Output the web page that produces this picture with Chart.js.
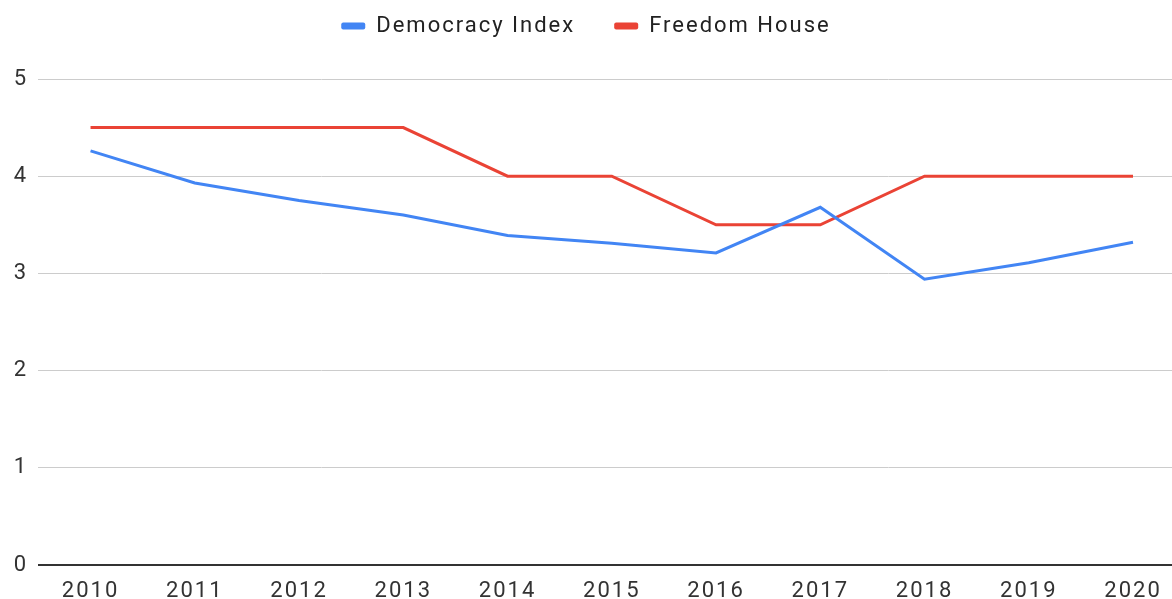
<!DOCTYPE html>
<html>
<head>
<meta charset="utf-8">
<script src="https://cdn.jsdelivr.net/npm/chart.js@4"></script>
<style>
  html, body { margin: 0; padding: 0; background: #fff; overflow: hidden; }
  #wrap { width: 1172px; height: 599px; }
</style>
</head>
<body>
<div id="wrap"><canvas id="chart"></canvas></div>
<script>
const years = [2010, 2011, 2012, 2013, 2014, 2015, 2016, 2017, 2018, 2019, 2020];
const democracyIndex = [4.26, 3.93, 3.75, 3.60, 3.39, 3.31, 3.21, 3.68, 2.94, 3.11, 3.32];
const freedomHouse = [4.5, 4.5, 4.5, 4.5, 4.0, 4.0, 3.5, 3.5, 4.0, 4.0, 4.0];
const yTicks = [0, 1, 2, 3, 4, 5];

const toPoints = (vals) => vals.map((v, i) => ({ x: years[i], y: v }));
const font = { family: 'Roboto, "Noto Sans", sans-serif', size: 22 };

// the reference text is a bit spaced out
const spacing = {
    id: 'spacing',
    beforeUpdate: (chart) => { chart.ctx.letterSpacing = '2px'; },
    beforeDraw: (chart) => { chart.ctx.letterSpacing = '2px'; }
};

// extra room between the legend and the plot
const legendGap = {
    id: 'legendGap',
    beforeInit: (chart) => {
        const fit = chart.legend.fit;
        chart.legend.fit = function () {
            fit.call(this);
            this.height += 32;
        };
    }
};

new Chart(document.getElementById('chart'), {
    type: 'line',
    data: {
        datasets: [
            {
                label: 'Democracy Index',
                data: toPoints(democracyIndex),
                borderColor: '#4285F4',
                backgroundColor: '#4285F4',
                borderWidth: 3,
                pointRadius: 0,
                tension: 0
            },
            {
                label: 'Freedom House',
                data: toPoints(freedomHouse),
                borderColor: '#EA4335',
                backgroundColor: '#EA4335',
                borderWidth: 3,
                pointRadius: 0,
                tension: 0
            }
        ]
    },
    plugins: [spacing, legendGap],
    options: {
        responsive: true,
        maintainAspectRatio: false,
        animation: false,
        layout: { padding: { top: -24, right: 0, left: 0, bottom: 0 } },
        plugins: {
            tooltip: { enabled: false },
            legend: {
                position: 'top',
                labels: {
                    color: '#222',
                    font: font,
                    boxWidth: 24,
                    boxHeight: 7,
                    padding: 39,
                    useBorderRadius: true,
                    borderRadius: 2,
                    generateLabels: (chart) => {
                        const items = Chart.defaults.plugins.legend.labels.generateLabels(chart);
                        items.forEach(it => { it.lineWidth = 0; });
                        return items;
                    }
                }
            }
        },
        scales: {
            x: {
                type: 'linear',
                min: 2009.496,
                max: 2020.374,
                afterFit: (scale) => { scale.height = 34; },
                grid: { display: false },
                border: { display: false },
                ticks: {
                    stepSize: 1,
                    includeBounds: false,
                    autoSkip: false,
                    maxRotation: 0,
                    color: '#333',
                    font: font,
                    padding: 5,
                    callback: (v) => years.includes(v) ? String(v) : ''
                }
            },
            y: {
                min: 0,
                max: 5,
                afterFit: (scale) => { scale.width = 38; },
                afterBuildTicks: (scale) => { scale.ticks = yTicks.map(v => ({ value: v })); },
                grid: {
                    drawTicks: false,
                    color: (ctx) => ctx.tick && ctx.tick.value === 0 ? '#333' : '#ccc',
                    lineWidth: (ctx) => ctx.tick && ctx.tick.value === 0 ? 2 : 1
                },
                border: { display: false },
                ticks: {
                    color: '#333',
                    font: font,
                    padding: 10
                }
            }
        }
    }
});
</script>
</body>
</html>
